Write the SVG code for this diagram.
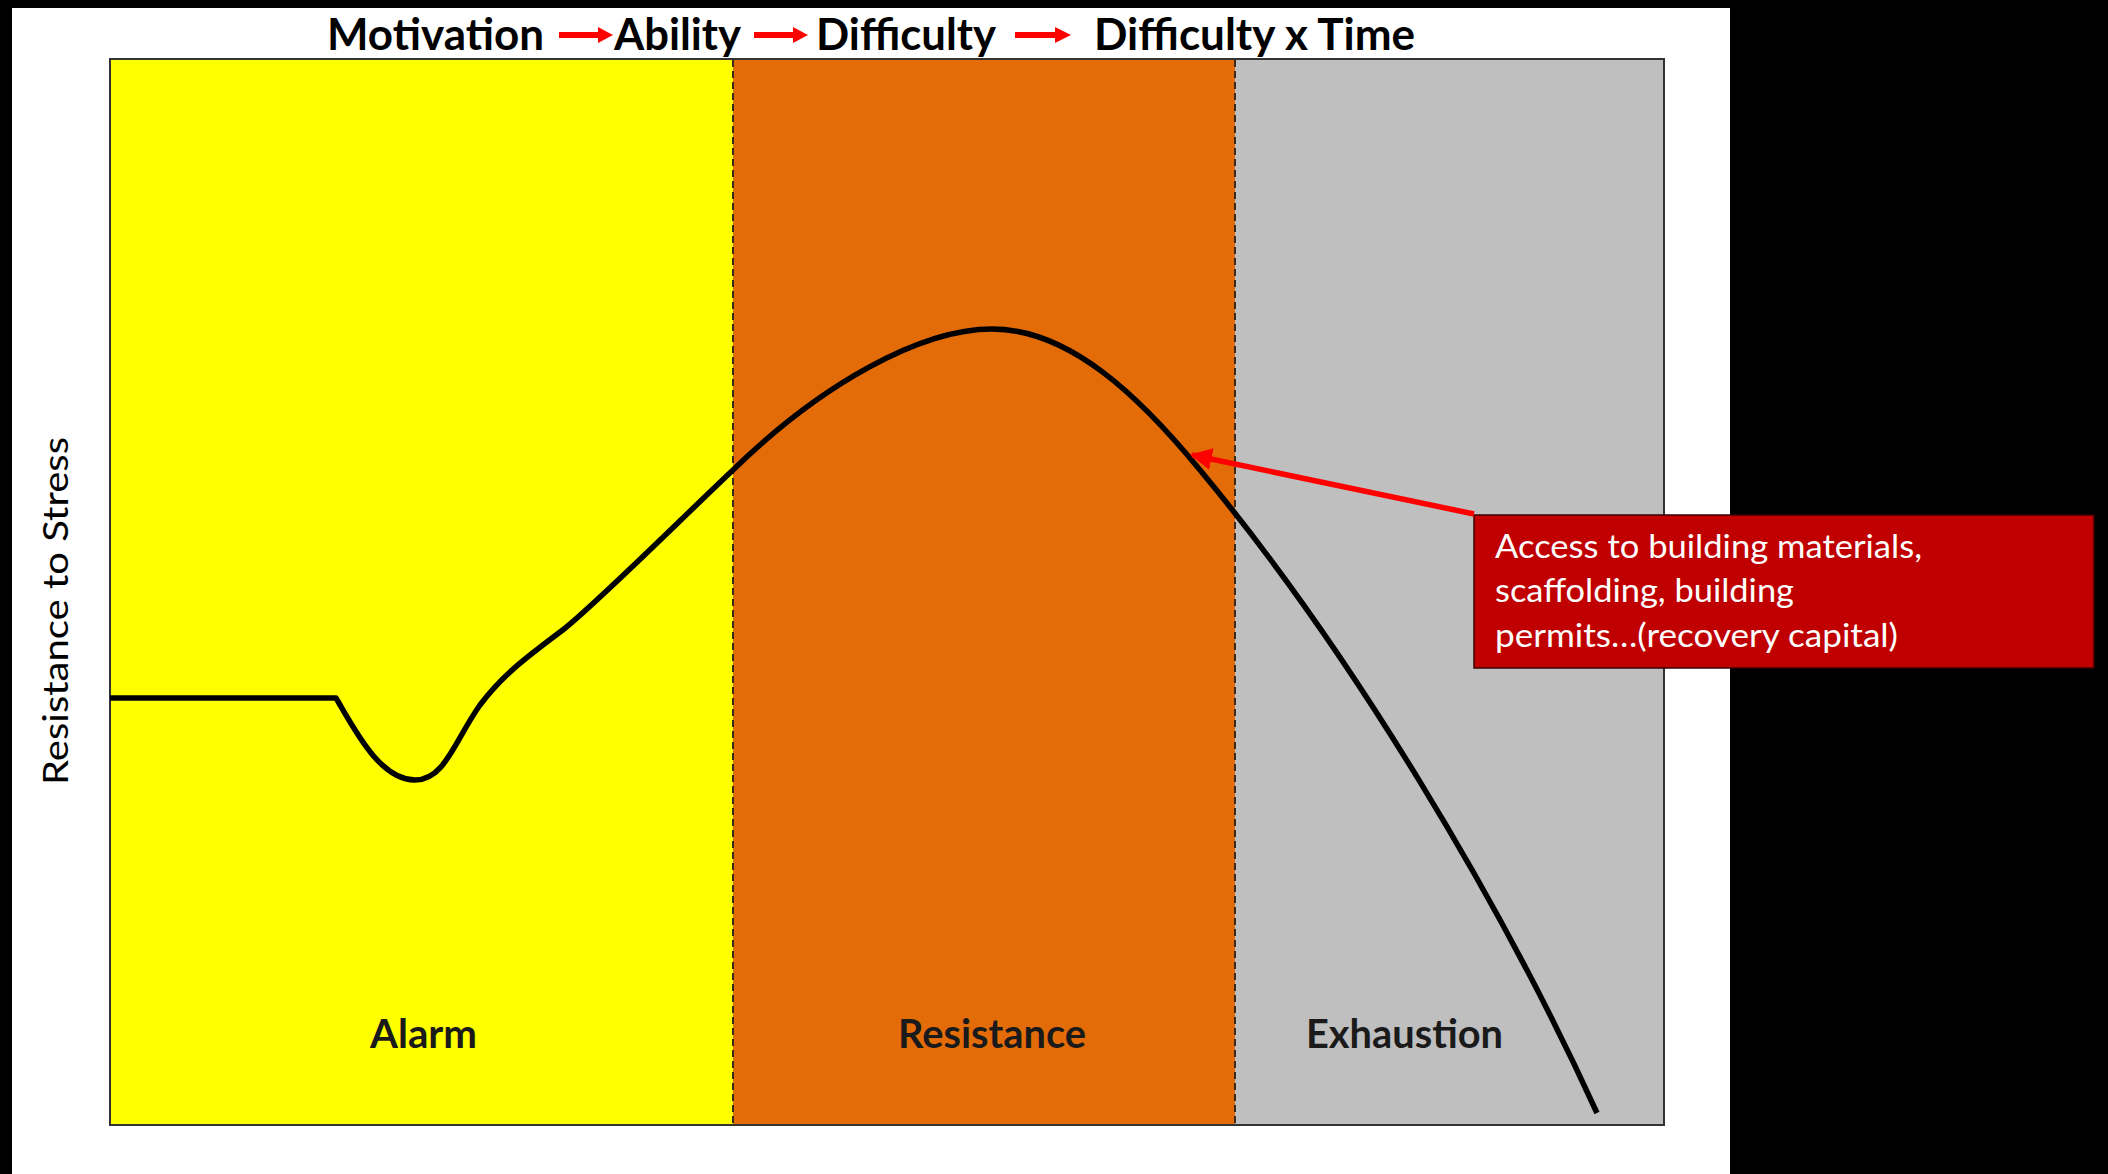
<svg xmlns="http://www.w3.org/2000/svg" width="2108" height="1174" viewBox="0 0 2108 1174">
<defs>
<style>
.t{font-family:Lato,"Open Sans","Liberation Sans",sans-serif;}
.title{font-size:44px;font-weight:bold;fill:#000;}
.phase{font-size:40px;font-weight:bold;fill:#1a1a1a;}
.axis{font-size:35px;fill:#000;}
.note{font-size:32px;fill:#fff;}
.div{stroke:#3a2a1a;stroke-width:2;stroke-dasharray:7,4;}
</style>
<marker id="ah" viewBox="0 0 10 10" refX="9" refY="5" markerWidth="4" markerHeight="4" orient="auto" markerUnits="strokeWidth">
<path d="M0,0 L10,5 L0,10 Z" fill="#ff0000"/>
</marker>
</defs>
<rect x="0" y="0" width="2108" height="1174" fill="#000"/>
<rect x="12" y="8" width="1718" height="1166" fill="#fff"/>

<g id="chart">
<rect x="110" y="59" width="623" height="1066" fill="#ffff00"/>
<rect x="733" y="59" width="502" height="1066" fill="#e36c09"/>
<rect x="1235" y="59" width="429" height="1066" fill="#bfbfbf"/>
<rect x="110" y="59" width="1554" height="1066" fill="none" stroke="#333" stroke-width="2"/>
<line class="div" x1="733" y1="60" x2="733" y2="1124"/>
<line class="div" x1="1235" y1="60" x2="1235" y2="1124"/>
</g>

<g id="title">
<text class="t title" x="327" y="50" textLength="217" lengthAdjust="spacingAndGlyphs">Motivation</text>
<text class="t title" x="614" y="50" textLength="127" lengthAdjust="spacingAndGlyphs">Ability</text>
<text class="t title" x="816" y="50" textLength="180" lengthAdjust="spacingAndGlyphs">Difficulty</text>
<text class="t title" x="1094" y="50" textLength="321" lengthAdjust="spacingAndGlyphs">Difficulty x Time</text>
</g>

<g id="axis-label">
<text class="t axis" transform="translate(68,611) rotate(-90)" text-anchor="middle" textLength="348" lengthAdjust="spacingAndGlyphs">Resistance to Stress</text>
</g>

<g id="phase-alarm"><text class="t phase" x="370" y="1048" textLength="107" lengthAdjust="spacingAndGlyphs">Alarm</text></g>
<g id="phase-resistance"><text class="t phase" x="898" y="1048" textLength="188" lengthAdjust="spacingAndGlyphs">Resistance</text></g>
<g id="phase-exhaustion"><text class="t phase" x="1306" y="1048" textLength="197" lengthAdjust="spacingAndGlyphs">Exhaustion</text></g>

<g id="curve">
<path d="M110,698 L336,698 C355,730 380,780 415,780 C445,780 455,740 480,705 C505,672 530,655 564,629 C600,600 680,520 733,470 C820,385 920,329 992,329 C1070,329 1140,397 1200,470 C1350,650 1500,900 1597,1113" fill="none" stroke="#000" stroke-width="5.5" stroke-linejoin="round"/>
</g>

<g id="callout">
<rect x="1474" y="515" width="620" height="153" fill="#c00000" stroke="#3a0000" stroke-width="1.5"/>
<text class="t note" x="1495" y="558" textLength="427" lengthAdjust="spacingAndGlyphs">Access to building materials,</text>
<text class="t note" x="1495" y="602" textLength="299" lengthAdjust="spacingAndGlyphs">scaffolding, building</text>
<text class="t note" x="1495" y="647" textLength="403" lengthAdjust="spacingAndGlyphs">permits…(recovery capital)</text>
</g>

<g id="connectors">
<line x1="1474" y1="514" x2="1192" y2="455" stroke="#ff0000" stroke-width="5.5" marker-end="url(#ah)"/>
<path d="M559,32 L598,32 L598,27 L613,35 L598,43 L598,38 L559,38 Z" fill="#ff0000"/>
<path d="M754,32 L793,32 L793,27 L808,35 L793,43 L793,38 L754,38 Z" fill="#ff0000"/>
<path d="M1015,32 L1055,32 L1055,27 L1071,35 L1055,43 L1055,38 L1015,38 Z" fill="#ff0000"/>
</g>
</svg>
